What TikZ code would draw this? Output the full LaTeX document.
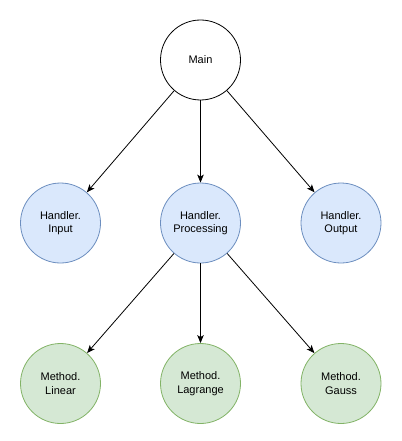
\documentclass[tikz,border=0pt]{standalone}
\usepackage{fontspec}
\setmainfont{Liberation Sans}
\usetikzlibrary{arrows.meta}
\definecolor{bluefill}{HTML}{DAE8FC}
\definecolor{bluedraw}{HTML}{6C8EBF}
\definecolor{greenfill}{HTML}{D5E8D4}
\definecolor{greendraw}{HTML}{82B366}
\begin{document}
\begin{tikzpicture}[x=1pt,y=-1pt,
  base/.style={circle,minimum size=80pt,inner sep=0pt,line width=0.8pt,align=center,font=\fontsize{11}{13.5}\selectfont},
  mainnode/.style={base,draw=black,fill=white},
  handler/.style={base,draw=bluedraw,fill=bluefill},
  method/.style={base,draw=greendraw,fill=greenfill},
  conn/.style={line width=0.8pt,-{Stealth[length=8pt,width=6.5pt,inset=2pt]}}]
\useasboundingbox (0,0) rectangle (401,441);
\node[mainnode] (main) at (200.5,60) {Main};
\node[handler] (hin) at (60.5,223) {Handler.\\Input};
\node[handler] (hproc) at (200.5,223) {Handler.\\Processing};
\node[handler] (hout) at (341,223) {Handler.\\Output};
\node[method] (mlin) at (60.5,383.5) {Method.\\Linear};
\node[method] (mlag) at (200.5,383.5) {Method.\\Lagrange};
\node[method] (mgau) at (341,383.5) {Method.\\Gauss};
\draw[conn] (main) -- (hin);
\draw[conn] (main) -- (hproc);
\draw[conn] (main) -- (hout);
\draw[conn] (hproc) -- (mlin);
\draw[conn] (hproc) -- (mlag);
\draw[conn] (hproc) -- (mgau);
\end{tikzpicture}
\end{document}
